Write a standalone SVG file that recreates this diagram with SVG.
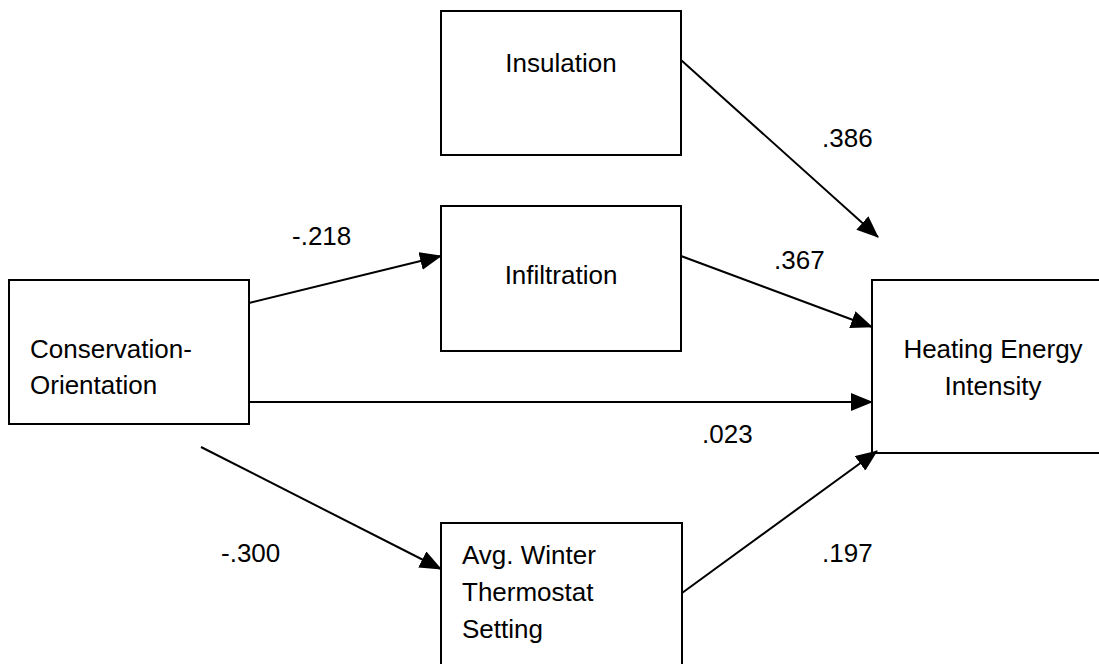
<svg xmlns="http://www.w3.org/2000/svg" width="1099" height="664" viewBox="0 0 1099 664">
<style>
.box{fill:#fff;stroke:#000;stroke-width:2}
.t{font-family:"Liberation Sans",Arial,sans-serif;font-size:26px;fill:#000}
.c{stroke:#000;stroke-width:2;fill:none;marker-end:url(#ah)}
</style>
<defs>
<marker id="ah" markerUnits="userSpaceOnUse" markerWidth="22" markerHeight="18" refX="21" refY="9" orient="auto" viewBox="0 0 22 18">
<path d="M0,0 L22,9 L0,18 z" fill="#000"/>
</marker>
</defs>
<rect width="1099" height="664" fill="#fff"/>
<g id="insulation"><rect class="box" x="441" y="11" width="240" height="144"/><text class="t" x="561" y="72" text-anchor="middle">Insulation</text></g>
<g id="infiltration"><rect class="box" x="441" y="206" width="240" height="145"/><text class="t" x="561" y="284" text-anchor="middle">Infiltration</text></g>
<g id="conservation"><rect class="box" x="9" y="280" width="240" height="144"/><text class="t" x="30" y="358">Conservation-</text><text class="t" x="30" y="394">Orientation</text></g>
<g id="heating"><rect class="box" x="872" y="280" width="240" height="173"/><text class="t" x="993" y="358" text-anchor="middle">Heating Energy</text><text class="t" x="993" y="395" text-anchor="middle">Intensity</text></g>
<g id="thermostat"><rect class="box" x="441" y="523" width="241" height="160"/><text class="t" x="462" y="564">Avg. Winter</text><text class="t" x="462" y="601">Thermostat</text><text class="t" x="462" y="638">Setting</text></g>
<g id="connectors">
<line class="c" x1="681" y1="60" x2="878" y2="237"/>
<line class="c" x1="681" y1="256" x2="872" y2="327"/>
<line class="c" x1="249" y1="303" x2="441" y2="256"/>
<line class="c" x1="249" y1="402" x2="872" y2="402"/>
<line class="c" x1="201" y1="447" x2="441" y2="569"/>
<line class="c" x1="682" y1="593" x2="877" y2="451"/>
<text class="t" x="822" y="147">.386</text>
<text class="t" x="292" y="245">-.218</text>
<text class="t" x="774" y="269">.367</text>
<text class="t" x="702" y="443">.023</text>
<text class="t" x="221" y="562">-.300</text>
<text class="t" x="822" y="562">.197</text>
</g>
</svg>
